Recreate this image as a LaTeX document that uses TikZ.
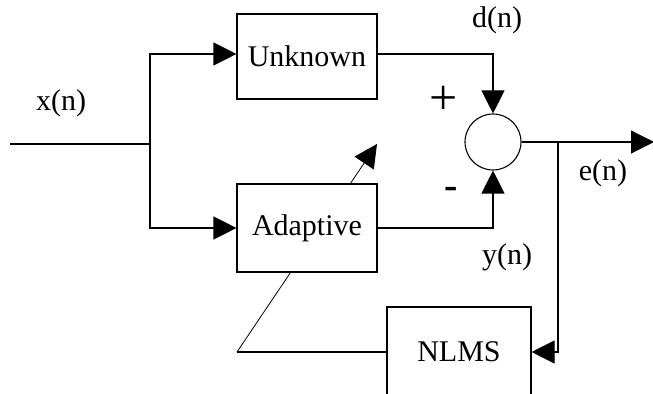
\documentclass[tikz,border=0pt]{standalone}
\usepackage{fontspec}
\setmainfont{Liberation Serif}
\usetikzlibrary{arrows.meta,backgrounds}
\begin{document}
\begin{tikzpicture}[x=0.5pt,y=-0.5pt,
  line width=0.55pt,
  font=\fontsize{15}{17}\selectfont,
  tip/.style={-{Triangle[length=11.5pt,width=11.5pt]}},
  block/.style={draw,fill=white,rectangle,inner sep=0pt,minimum width=70pt},
  lbl/.style={inner sep=0pt}]
\clip (0,0) rectangle (653,394);
\useasboundingbox (0,0) rectangle (653,394);
% blocks
\node[block,minimum height=42.5pt] (unk) at (307,56.5) {Unknown};
\node[block,minimum height=44pt] (adapt) at (307,228) {Adaptive};
\node[block,minimum width=72pt,minimum height=45pt] (nlms) at (459,352) {NLMS};
\node[draw,circle,minimum size=28pt,inner sep=0pt] (sum) at (493,142) {};
% coordinates
\coordinate (in) at (10,144);
\coordinate (split) at (150,144);
\coordinate (out) at (654,142);
\coordinate (br) at (558,142);
\coordinate (low) at (237,352);
\coordinate (adtip) at (377,144);
% connectors
\draw (in) -- (split);
\draw[tip] (split) |- ([yshift=1.25pt]unk.west);
\draw[tip] (split) |- (adapt.west);
\draw[tip] ([yshift=1.25pt]unk.east) -| (sum.north);
\draw[tip] (adapt.east) -| (sum.south);
\draw[tip] (sum.east) -- (out);
\draw[tip] (br) |- (nlms.east);
\draw (nlms.west) -- (low);
\begin{scope}[on background layer]
\draw[tip] (low) -- (adtip);
\end{scope}
% labels
\node[lbl] (xl) at (61,103) {x(n)};
\node[lbl] (dl) at (497,20) {d(n)};
\node[lbl,font=\fontsize{25}{25}\selectfont] (pl) at (444,100) {+};
\node[lbl,font=\fontsize{20}{20}\selectfont\bfseries] (ml) at (451,193) {-};
\node[lbl] (el) at (603,173) {e(n)};
\node[lbl] (yl) at (507,257) {y(n)};
\end{tikzpicture}
\end{document}
